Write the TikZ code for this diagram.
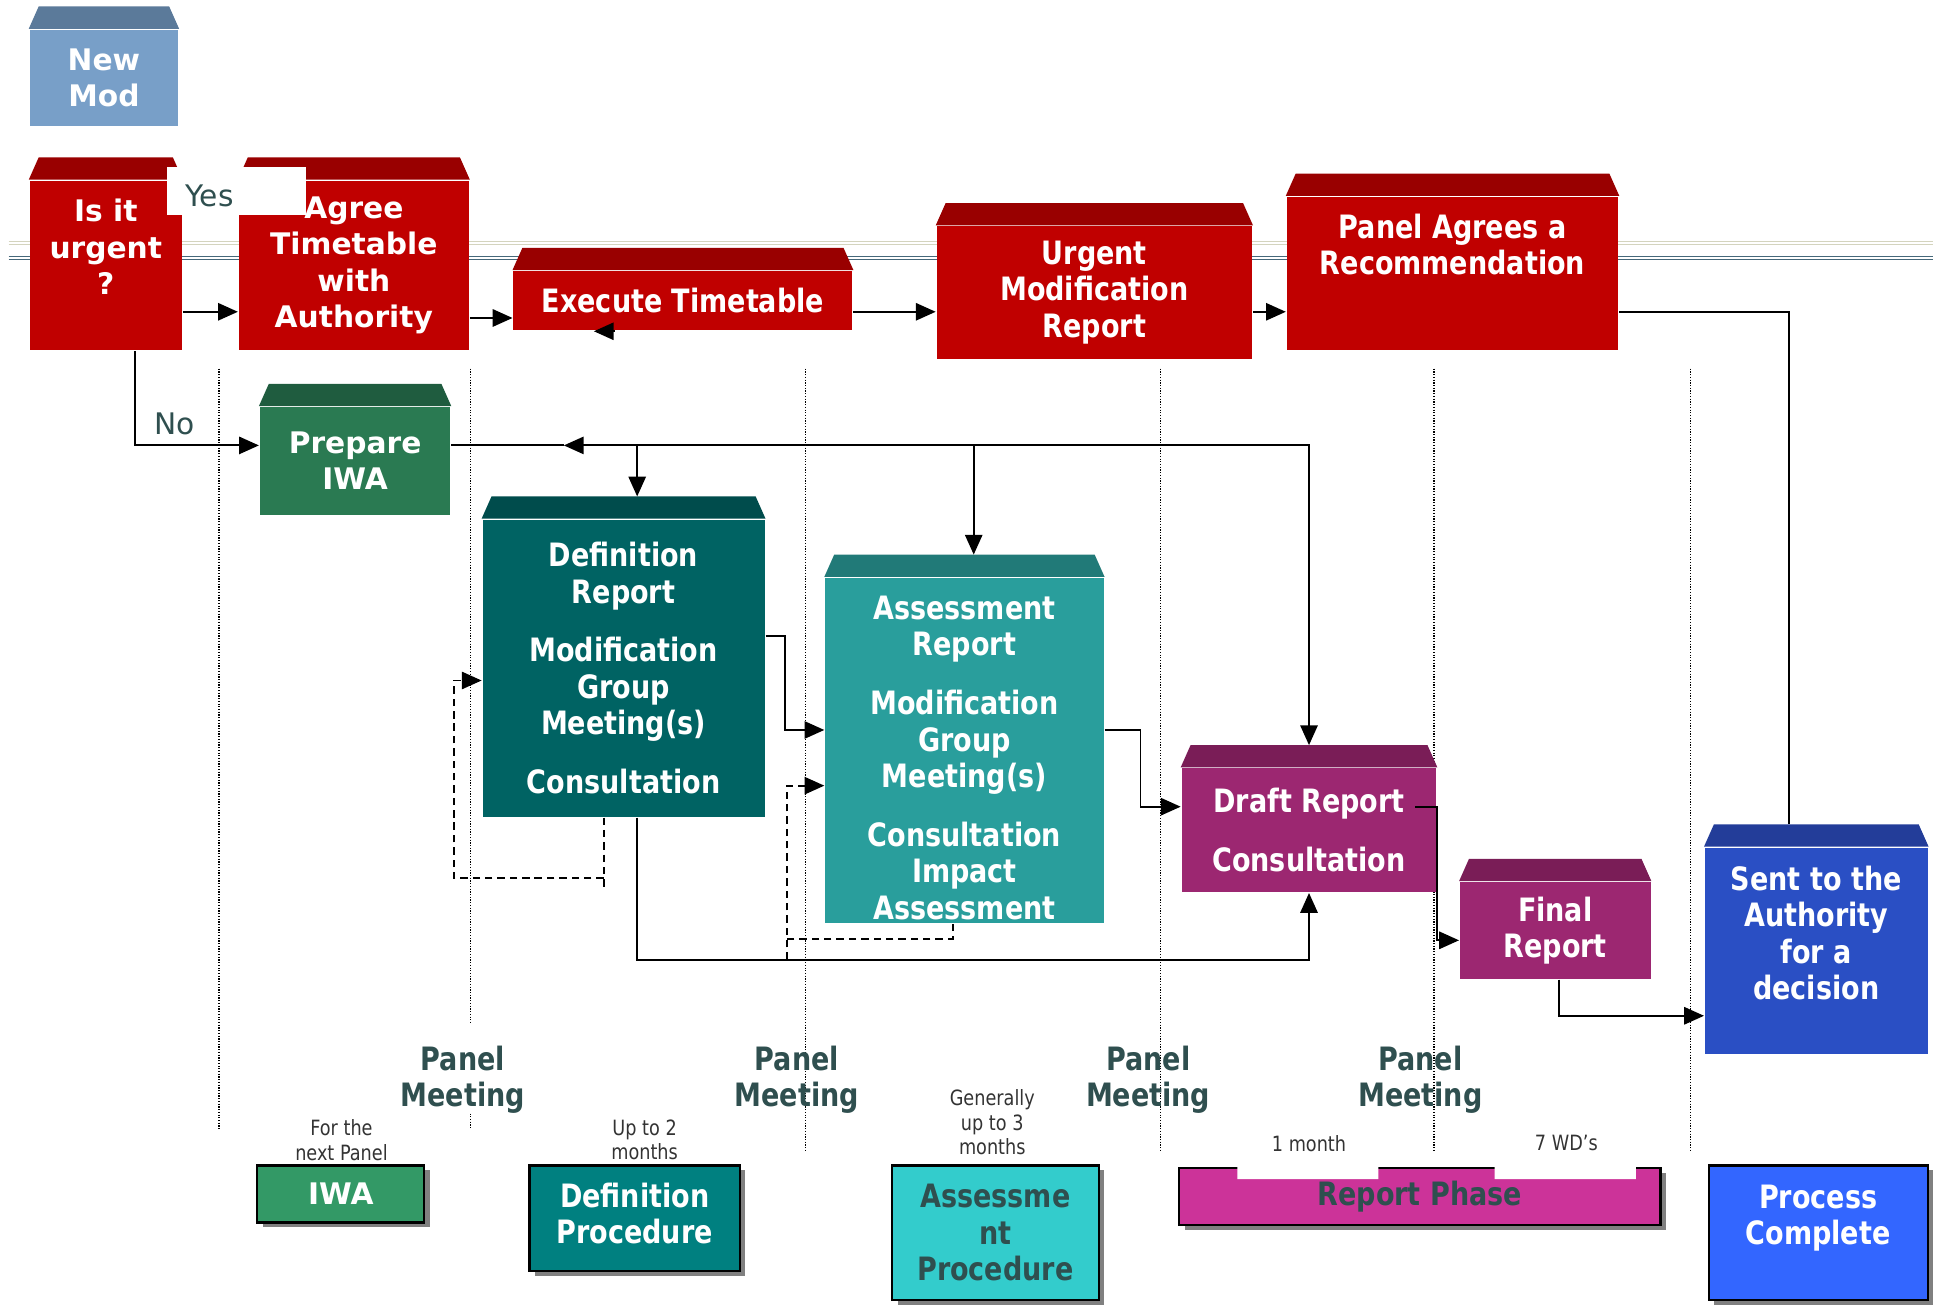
\documentclass[tikz,border=0pt]{standalone}
\usepackage{fontspec}
\setmainfont{DejaVu Sans}
\newfontfamily\condfont{DejaVu Sans}[FakeStretch=0.84]
\usetikzlibrary{arrows.meta,shadows}

\definecolor{newfront}{HTML}{789FC8}
\definecolor{newtop}{HTML}{5B7A9A}
\definecolor{redfront}{HTML}{C00000}
\definecolor{redtop}{HTML}{990000}
\definecolor{iwafront}{HTML}{2A7A52}
\definecolor{iwatop}{HTML}{1F5C3F}
\definecolor{deffront}{HTML}{006363}
\definecolor{deftop}{HTML}{004C4C}
\definecolor{assfront}{HTML}{299E9C}
\definecolor{asstop}{HTML}{217A78}
\definecolor{repfront}{HTML}{9C2771}
\definecolor{reptop}{HTML}{7A1D57}
\definecolor{sentfront}{HTML}{2A4FC4}
\definecolor{senttop}{HTML}{233D99}
\definecolor{slate}{HTML}{2F4F4F}
\definecolor{notegrey}{HTML}{333333}
\definecolor{rulebeige}{HTML}{D4D4BE}
\definecolor{ruleblue}{HTML}{46687A}
\definecolor{legiwa}{HTML}{339966}
\definecolor{legdef}{HTML}{008080}
\definecolor{legass}{HTML}{33CCCC}
\definecolor{legrep}{HTML}{CC3399}
\definecolor{legdone}{HTML}{3366FF}

\begin{document}
\begin{tikzpicture}[x=1pt,y=-1pt,>={Triangle[length=16pt,width=14pt]},line width=1.5pt,
    block/.style n args={3}{rectangle,fill=#1,inner sep=0pt,text=white,align=center,
        minimum width=#2,minimum height=#3},
    legend/.style n args={3}{rectangle,draw=black,line width=1.8pt,fill=#1,inner sep=0pt,
        align=center,minimum width=#2,minimum height=#3,
        drop shadow={shadow xshift=4.5pt,shadow yshift=-4pt,fill=black!50,opacity=1}},
    wide/.style={font=\bfseries\fontsize{24}{29.5}\selectfont},
    narrow/.style={font=\condfont\bfseries\fontsize{26}{29.5}\selectfont},
    note/.style={align=center,text=notegrey,font=\condfont\fontsize{17}{19.5}\selectfont},
    guide/.style={line width=0.9pt,dash pattern=on 1pt off 1.2pt,black}]
\useasboundingbox (0,0) rectangle (1568,1054);

% background rules
\draw[rulebeige,line width=0.8pt] (7,195) -- (1562,195) (7,198) -- (1562,198);
\draw[ruleblue,line width=0.8pt] (7,207) -- (1562,207) (7,209.5) -- (1562,209.5);
\foreach \x/\y in {177/912,651/930,938/930,1159/930,1366/930}
  \draw[guide] (\x,298) -- (\x,\y);
\draw[guide] (380,298) -- (380,828) (380,900) -- (380,912);

% process boxes
\node[block={newfront}{120pt}{78pt},wide] (newmod) at (84,63) {New\\Mod};
\node[block={redfront}{123pt}{137pt},wide] (urgentq) at (85.5,214.5) {Is it\\urgent\\?\\\mbox{}};
\node[block={redfront}{186pt}{137pt},wide] (agree) at (286,214.5) {Agree\\Timetable\\with\\Authority};
\node[block={redfront}{274pt}{48pt},narrow] (execute) at (552,243) {Execute Timetable};
\node[block={redfront}{255pt}{107pt},narrow] (urgentmod) at (884.5,236.5) {Urgent\\Modification\\Report};
\node[block={redfront}{268pt}{124pt},narrow] (panelrec) at (1174,221) {Panel Agrees a\\Recommendation\\[18pt]\mbox{}};
\node[block={iwafront}{154pt}{87pt},wide] (prepare) at (287,372.5) {Prepare\\IWA};
\node[block={deffront}{228pt}{240pt},narrow] (defrep) at (504,540)
  {Definition\\Report\\[18pt]Modification\\Group\\Meeting(s)\\[18pt]Consultation};
\node[block={assfront}{225pt}{279pt},narrow] (assess) at (779.5,606.5)
  {\mbox{}\\[1.5pt]Assessment\\Report\\[18pt]Modification\\Group\\Meeting(s)\\[18pt]Consultation\\Impact\\Assessment};
\node[block={repfront}{206pt}{100pt},narrow] (draft) at (1058,671) {Draft Report\\[18pt]Consultation};
\node[block={repfront}{154pt}{78pt},narrow] (final) at (1257,752) {Final\\Report};
\node[block={sentfront}{180pt}{167pt},narrow] (sent) at (1468,768.5) {Sent to the\\Authority\\for a\\decision\\\mbox{}};

% top faces
\foreach \n/\c in {newmod/newtop,urgentq/redtop,agree/redtop,execute/redtop,urgentmod/redtop,
    panelrec/redtop,prepare/iwatop,defrep/deftop,assess/asstop,draft/reptop,final/reptop,sent/senttop}
  \fill[\c] (\n.north west) -- ([xshift=8pt,yshift=18pt]\n.north west)
    -- ([xshift=-8pt,yshift=18pt]\n.north east) -- (\n.north east) -- cycle;

\node[fill=white,minimum width=112pt,inner ysep=3.5pt,text height=28.5pt,text depth=3.5pt,
  inner xsep=15pt,text width=82pt,align=left,text=slate,font=\fontsize{24}{28}\selectfont]
  (yes) at (191,154.5) {Yes};

% connectors
\draw[->] ([yshift=-37.5pt]urgentq.east) -- ([yshift=-37.5pt]agree.west);
\draw[->] ([yshift=-42.5pt]agree.east) -- ([yshift=-14pt]execute.west);
\draw[->] ([yshift=-9pt]execute.east) -- ([yshift=-15.5pt]urgentmod.west);
\draw[->] ([yshift=-15.5pt]urgentmod.east) -- ([yshift=-31pt]panelrec.west);
\draw ([yshift=-31pt]panelrec.east) -| ([xshift=-22pt,yshift=18pt]sent.north);
\draw[->] ([xshift=-55pt]execute.south) -- ([xshift=-72pt]execute.south);
\draw[->] ([xshift=23.5pt]urgentq.south) |- node[pos=0.66,above=4pt,text=slate,
  font=\fontsize{24}{28}\selectfont] (no) {No} ([yshift=12.5pt]prepare.west);

\coordinate (bus) at ([yshift=12.5pt]prepare.east);
\coordinate (bushead) at ([xshift=91pt,yshift=12.5pt]prepare.east);
\coordinate (deftop) at ([xshift=11pt,yshift=18pt]defrep.north);
\coordinate (asstop) at ([xshift=7.5pt,yshift=18pt]assess.north);
\draw (bus) -- (bushead);
\draw[<->] (bushead) -| ([yshift=18pt]draft.north);
\draw[->] (deftop |- bus) -- (deftop);
\draw[->] (asstop |- bus) -- (asstop);

\draw[->] ([yshift=26pt]defrep.east) -- ++(16,0) |- ([yshift=16.5pt]assess.west);
\draw[->] ([yshift=16.5pt]assess.east) -- ++(29,0) |- ([yshift=19pt]draft.west);
\draw[->] ([xshift=11pt]defrep.south) -- ++(0,115) -| (draft.south);
\draw[->,dash pattern=on 6pt off 4pt] ([xshift=-16pt]defrep.south) -- ++(0,57) ++(0,-8)
  -- ++(-121,0) |- ([yshift=-10pt]defrep.west);
\draw[->,dash pattern=on 6pt off 4pt] ([xshift=-9.5pt]assess.south) -- ++(0,12)
  -- ++(-134,0) ++(0,17) |- ([yshift=-28.5pt]assess.west);
\draw[->] ([xshift=-18pt,yshift=19pt]draft.east) -- ++(18,0) |- ([yshift=-8pt]final.west);
\draw[->] ([xshift=3pt]final.south) |- ([yshift=-52.5pt]sent.west);

% timeline
\foreach \px [count=\i] in {374,644,928,1148}
  \node[narrow,text=slate,align=center] (panel\i) at (\px,872.5) {Panel\\Meeting};
\node[note] (nextpanel) at (276,921.5) {For the\\next Panel};
\node[note] (twomonths) at (521,921.5) {Up to 2\\months};
\node[note] (threemonths) at (802,907) {Generally\\up to 3\\months};
\node[note] (onemonth) at (1058,924) {1 month};
\node[note] (sevenwd) at (1266,924) {7 WD’s};

% legend
\node[legend={legiwa}{135pt}{46pt},wide,text=white] (iwa) at (275.5,965) {IWA};
\node[legend={legdef}{170pt}{85pt},narrow,text=white] (defproc) at (513,984.5) {Definition\\Procedure\\[-21.5pt]\mbox{}};
\node[legend={legass}{167pt}{109pt},narrow,text=slate] (assproc) at (804.5,996.5) {Assessme\\nt\\Procedure};
\node[legend={legrep}{389pt}{46pt},narrow,text=slate] (repphase) at (1147.5,967) {Report Phase};
\fill[white] ([xshift=48pt,yshift=1.5pt]repphase.north west) rectangle ++(114,11.5)
  ([xshift=256pt,yshift=1.5pt]repphase.north west) rectangle ++(114,11.5);
\node[legend={legdone}{177pt}{109pt},narrow,text=white] (procdone) at (1469.5,996.5) {Process\\Complete\\\mbox{}};
\end{tikzpicture}
\end{document}
